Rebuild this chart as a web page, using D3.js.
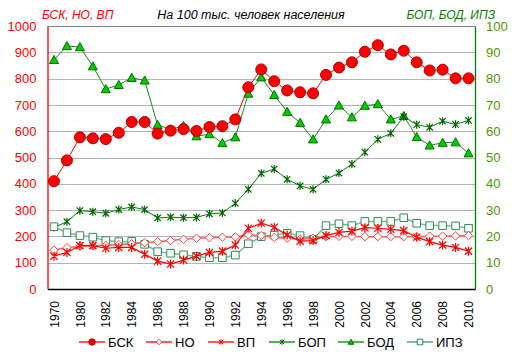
<!DOCTYPE html>
<html>
<head>
<meta charset="utf-8">
<script src="https://cdn.jsdelivr.net/npm/d3@7"></script>
<style>
  body { margin: 0; background: #fff; }
  svg { font-family: "Liberation Sans", Arial, sans-serif; }
</style>
</head>
<body>
<div id="chart"></div>
<script>
// categories (2nd one is not labelled on the axis)
var years = ['1970', '1975', '1980', '1981', '1982', '1983', '1984', '1985', '1986', '1987',
  '1988', '1989', '1990', '1991', '1992', '1993', '1994', '1995', '1996', '1997', '1998',
  '1999', '2000', '2001', '2002', '2003', '2004', '2005', '2006', '2007', '2008', '2009', '2010']

// left axis series
var bsk = [410, 489, 577, 573, 570, 594, 635, 635, 591, 602, 608, 601, 616, 619, 645, 767,
  835, 790, 755, 748, 744, 814, 842, 862, 902, 927, 892, 906, 862, 831, 834, 801, 801]
var no = [148, 157, 163, 164, 166, 169, 172, 176, 180, 184, 189, 193, 195, 197, 198, 206,
  203, 196, 193, 190, 193, 199, 200, 200, 199, 199, 199, 199, 199, 201, 201, 202, 203]
var vp = [125, 139, 165, 165, 155, 158, 158, 132, 106, 95, 110, 125, 139, 144, 167, 231,
  250, 235, 205, 182, 184, 203, 215, 220, 233, 231, 227, 222, 197, 180, 167, 158, 144]

// right axis series
var bop = [23.4, 25.6, 29.8, 29.4, 28.8, 30.2, 31.2, 30.2, 27.0, 27.3, 27.1, 27.2, 28.6, 28.9,
  32.6, 37.9, 44.0, 45.6, 41.7, 39.2, 37.9, 41.7, 44.1, 47.5, 52.0, 56.9, 59.2, 65.5, 62.5,
  61.5, 63.8, 62.6, 64.1]
var bod = [87.1, 92.4, 92.0, 84.7, 76.0, 77.6, 80.3, 79.3, 62.4, 60.7, 62.0, 58.1, 58.9, 55.5,
  57.7, 74.3, 80.5, 73.8, 67.4, 63.2, 56.9, 64.5, 69.8, 65.3, 69.7, 70.3, 64.5, 65.8, 57.8,
  54.6, 55.6, 55.8, 51.6]
var ipz = [23.7, 21.4, 20.3, 19.7, 18.4, 18.0, 18.1, 17.0, 14.2, 13.6, 13.0, 12.4, 11.9, 11.9,
  12.9, 17.2, 19.9, 20.5, 21.2, 20.3, 18.9, 24.1, 24.8, 24.1, 25.7, 25.7, 25.7, 27.1, 25.0,
  24.1, 24.1, 24.0, 23.1]

var leftTicks = [0, 100, 200, 300, 400, 500, 600, 700, 800, 900, 1000]
var rightTicks = [0, 10, 20, 30, 40, 50, 60, 70, 80, 90, 100]

var width = 516
var height = 364
var plotL = 47.5, plotR = 475, plotT = 26, plotB = 289

var svg = d3.select('#chart').append('svg')
  .attr('width', width)
  .attr('height', height)

var x = d3.scalePoint().domain(years).range([plotL, plotR]).padding(0.5)
var yL = d3.scaleLinear().domain([0, 1000]).range([plotB, plotT])
var yR = d3.scaleLinear().domain([0, 100]).range([plotB, plotT])

// gridlines
svg.append('g').selectAll('line')
  .data(leftTicks.slice(1))
  .enter().append('line')
  .attr('x1', plotL).attr('x2', plotR)
  .attr('y1', function(d) { return Math.round(yL(d)) + 0.5 })
  .attr('y2', function(d) { return Math.round(yL(d)) + 0.5 })
  .attr('stroke', '#b4b4b4').attr('stroke-width', 1)

// left axis
var axL = svg.append('g')
  .attr('transform', 'translate(' + plotL + ',0)')
  .call(d3.axisLeft(yL).tickValues(leftTicks).tickFormat(d3.format('d')).tickSize(0).tickPadding(11))
axL.select('.domain').attr('stroke', '#ff0000').attr('stroke-width', 1.3)
axL.selectAll('text').attr('fill', '#ff0000').style('font-size', '13px')

// right axis
var axR = svg.append('g')
  .attr('transform', 'translate(' + plotR + ',0)')
  .call(d3.axisRight(yR).tickValues(rightTicks).tickSize(0).tickPadding(11))
axR.select('.domain').attr('stroke', '#008000').attr('stroke-width', 1.3)
axR.selectAll('text').attr('fill', '#4d9900').style('font-size', '13px')

// bottom axis
var axB = svg.append('g')
  .attr('transform', 'translate(0,' + plotB + ')')
  .call(d3.axisBottom(x).tickSize(0).tickPadding(0)
    .tickFormat(function(d, i) { return i % 2 == 0 ? d : '' }))
axB.select('.domain').attr('stroke', '#000').attr('stroke-width', 1.3)
axB.selectAll('text')
  .attr('transform', 'rotate(-90)')
  .attr('text-anchor', 'end')
  .attr('x', -12).attr('y', 0).attr('dy', '0.35em')
  .attr('fill', '#000').style('font-size', '12px')

// top border
svg.append('line')
  .attr('x1', plotL).attr('x2', plotR).attr('y1', plotT + 0.5).attr('y2', plotT + 0.5)
  .attr('stroke', '#808080')

// markers (r = half size in px)
function markerPath(type, r) {
  if (type == 'star') {
    var d = r * 0.8
    return 'M' + (-d) + ',' + (-d) + 'L' + d + ',' + d + 'M' + (-d) + ',' + d + 'L' + d + ',' + (-d) +
      'M0,' + (-r) + 'L0,' + r
  }
  if (type == 'diamond') return 'M0,' + (-r) + 'L' + r + ',0L0,' + r + 'L' + (-r) + ',0Z'
  if (type == 'square') return 'M' + (-r) + ',' + (-r) + 'H' + r + 'V' + r + 'H' + (-r) + 'Z'
  if (type == 'triangle') return 'M0,' + (-r) + 'L' + r + ',' + (r * 0.8) + 'L' + (-r) + ',' + (r * 0.8) + 'Z'
  return d3.symbol().type(d3.symbolCircle).size(Math.PI * r * r)()
}

var series = [
  {name: 'БСК', data: bsk, y: yL, line: '#ff0000', lw: 1, marker: 'circle', r: 5.5, fill: '#ff0000', stroke: '#b00000'},
  {name: 'НО', data: no, y: yL, line: '#ff6060', lw: 1.5, marker: 'diamond', r: 4.2, fill: '#fff', stroke: '#ff4040'},
  {name: 'ВП', data: vp, y: yL, line: '#ff0000', lw: 1.2, marker: 'star', r: 4.5, fill: 'none', stroke: '#ff0000'},
  {name: 'БОП', data: bop, y: yR, line: '#008000', lw: 1, marker: 'star', r: 4, fill: 'none', stroke: '#006400'},
  {name: 'БОД', data: bod, y: yR, line: '#1a8c1a', lw: 1, marker: 'triangle', r: 4.5, fill: '#00cc00', stroke: '#007000'},
  {name: 'ИПЗ', data: ipz, y: yR, line: '#70c090', lw: 1.5, marker: 'square', r: 3.8, fill: '#fff', stroke: '#2e8b57'}
]
var legendLine = ['#ff0000', '#ff0000', '#ff0000', '#008000', '#008000', '#339966']

var drawOrder = [4, 3, 5, 1, 2, 0]
drawOrder.forEach(function(si) {
  var s = series[si]
  var line = d3.line()
    .x(function(d, i) { return x(years[i]) })
    .y(function(d) { return s.y(d) })
  svg.append('path')
    .datum(s.data)
    .attr('d', line)
    .attr('fill', 'none')
    .attr('stroke', s.line)
    .attr('stroke-width', s.lw)

  svg.append('g').selectAll('path')
    .data(s.data)
    .enter().append('path')
    .attr('transform', function(d, i) { return 'translate(' + x(years[i]) + ',' + s.y(d) + ')' })
    .attr('d', markerPath(s.marker, s.r))
    .attr('fill', s.fill)
    .attr('stroke', s.stroke)
    .attr('stroke-width', s.marker == 'star' ? 1.2 : 1)
})

// titles
svg.append('text')
  .attr('x', 42).attr('y', 19)
  .attr('fill', '#ff0000').style('font-style', 'italic').style('font-size', '12px')
  .text('БСК, НО, ВП')
svg.append('text')
  .attr('x', 251).attr('y', 19).attr('text-anchor', 'middle')
  .attr('fill', '#000').style('font-style', 'italic').style('font-size', '12.5px')
  .text('На 100 тыс. человек населения')
svg.append('text')
  .attr('x', 495).attr('y', 19).attr('text-anchor', 'end')
  .attr('fill', '#008000').style('font-style', 'italic').style('font-size', '12px')
  .text('БОП, БОД, ИПЗ')

// legend
var legX = [79, 146, 208, 269, 338, 407]
var leg = svg.append('g').selectAll('g')
  .data(series)
  .enter().append('g')
  .attr('transform', function(d, i) { return 'translate(' + legX[i] + ',342)' })
leg.append('line')
  .attr('x1', 0).attr('x2', 26).attr('y1', 0).attr('y2', 0)
  .attr('stroke', function(d, i) { return legendLine[i] })
  .attr('stroke-width', 1.3)
leg.append('path')
  .attr('transform', 'translate(13,0)')
  .attr('d', function(d) { return markerPath(d.marker, d.marker == 'circle' ? 3.2 : 2.8) })
  .attr('fill', function(d) { return d.fill })
  .attr('stroke', function(d) { return d.stroke })
leg.append('text')
  .attr('x', 29).attr('y', 0).attr('dy', '0.36em')
  .style('font-size', '13px').attr('fill', '#000')
  .text(function(d) { return d.name })
</script>
</body>
</html>
